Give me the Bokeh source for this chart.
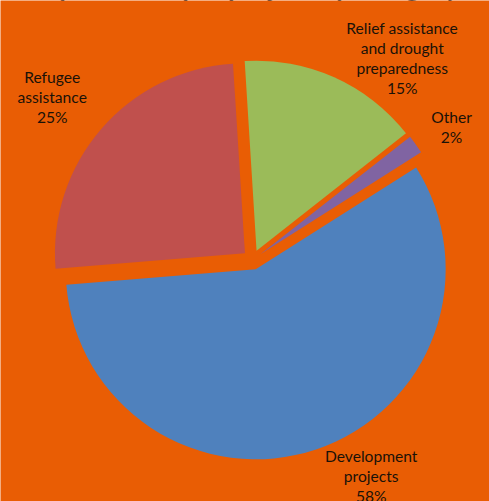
import math
from bokeh.plotting import figure
from bokeh.models import Range1d, ColumnDataSource
from bokeh.embed import file_html
from bokeh.resources import INLINE
from bokeh.core.properties import value

# ---- data ----
categories = ["Relief assistance\nand drought\npreparedness", "Other",
              "Development\nprojects", "Refugee\nassistance"]
shares = [15.4, 1.6, 57.7, 25.3]
colors = ["#9BBB59", "#8064A2", "#4F81BD", "#C0504D"]
title_text = "Expenditure per project by category"

# ---- layout / style ----
W, H = 489, 501
BG = "#E95D04"
CX, CY = 252.0, H - 259.3      # pie centre (data units = pixels)
R = 190                        # radius
EXPLODE = 10                   # explosion distance
START = -3.6                   # first slice angle, degrees clockwise from 12 o'clock
label_pos = [(401.7, 57.4), (451.0, 126.4), (370.7, 475.3), (51.7, 96.7)]  # screen coords

total = float(sum(shares))
xs, ys, sa, ea = [], [], [], []
cum = START
for s in shares:
    span = s / total * 360.0
    a0, a1 = cum, cum + span
    mid = math.radians((a0 + a1) / 2)
    xs.append(CX + EXPLODE * math.sin(mid))
    ys.append(CY + EXPLODE * math.cos(mid))
    sa.append(math.radians(90.0 - a0))
    ea.append(math.radians(90.0 - a1))
    cum = a1

src = ColumnDataSource(dict(x=xs, y=ys, start=sa, end=ea, color=colors))

p = figure(width=W, height=H, output_backend="svg", toolbar_location=None,
           x_range=Range1d(0, W), y_range=Range1d(0, H), min_border=0,
           background_fill_color=BG, border_fill_color=BG, outline_line_color=None)
p.axis.visible = False
p.grid.visible = False

p.wedge(x="x", y="y", radius=R, start_angle="start", end_angle="end",
        direction="clock", fill_color="color", line_color=None, source=src)

labels = [f"{c}\n{round(s / total * 100):.0f}%" for c, s in zip(categories, shares)]
lsrc = ColumnDataSource(dict(x=[lp[0] for lp in label_pos],
                             y=[H - lp[1] for lp in label_pos],
                             text=labels))
p.text(x="x", y="y", text="text", source=lsrc, text_align="center",
       text_baseline="middle", text_font=value("Lato"), text_font_size="15.6px",
       text_color="#1A1208", text_line_height=1.12)

# clipped title at the top edge (only descenders show, as in the reference)
p.text(x=[W / 2], y=[H + 14], text=[title_text], text_align="center",
       text_baseline="alphabetic", text_font=value("Lato"),
       text_font_size="27px", text_font_style="bold", text_color="#000000")

html = file_html(p, INLINE, title="Pie chart")
html = html.replace("<body>", f'<body style="margin:0;background:{BG};overflow:hidden">', 1)
open("out.html", "w").write(html)
